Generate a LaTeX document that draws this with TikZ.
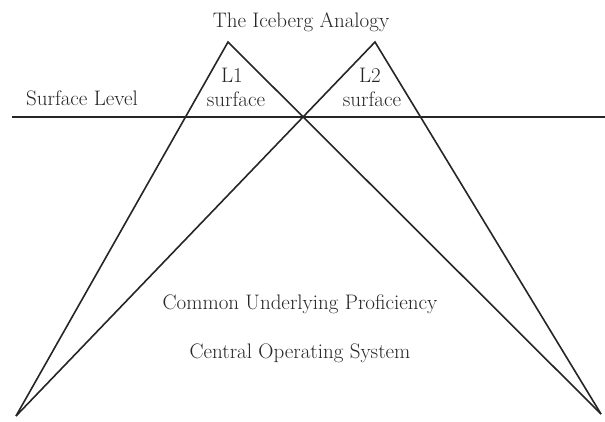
\documentclass[tikz,border=0pt]{standalone}
\begin{document}
\begin{tikzpicture}[x=1pt,y=-1pt,
  edge/.style={line width=1.6pt,black!85},
  surf/.style={line width=2.6pt,black!85},
  lbl/.style={inner sep=0pt,font=\fontsize{21}{24}\selectfont,text=black!85,align=center}]
\useasboundingbox[fill=white] (0,0) rectangle (605,421);
\coordinate (A1) at (228,42);
\coordinate (A2) at (375,42);
\coordinate (BL) at (16,416);
\coordinate (BR) at (601,414);
\coordinate (S0) at (12,117);
\coordinate (S1) at (605,117);
\draw[surf] (S0) -- (S1);
\draw[edge,line join=miter] (BL) -- (A1) -- (BR);
\draw[edge,line join=miter] (BL) -- (A2) -- (BR);
\node[lbl] (title) at (301,22) {The Iceberg Analogy};
\node[lbl] (sl) at (82,98) {Surface Level};
\node[lbl] (l1) at (232,75) {L1};
\node[lbl] (s1) at (236,99) {surface};
\node[lbl] (l2) at (370,75) {L2};
\node[lbl] (s2) at (372,99) {surface};
\node[lbl] (cup) at (300,304) {Common Underlying Proficiency};
\node[lbl] (cos) at (300,353) {Central Operating System};
\end{tikzpicture}
\end{document}
